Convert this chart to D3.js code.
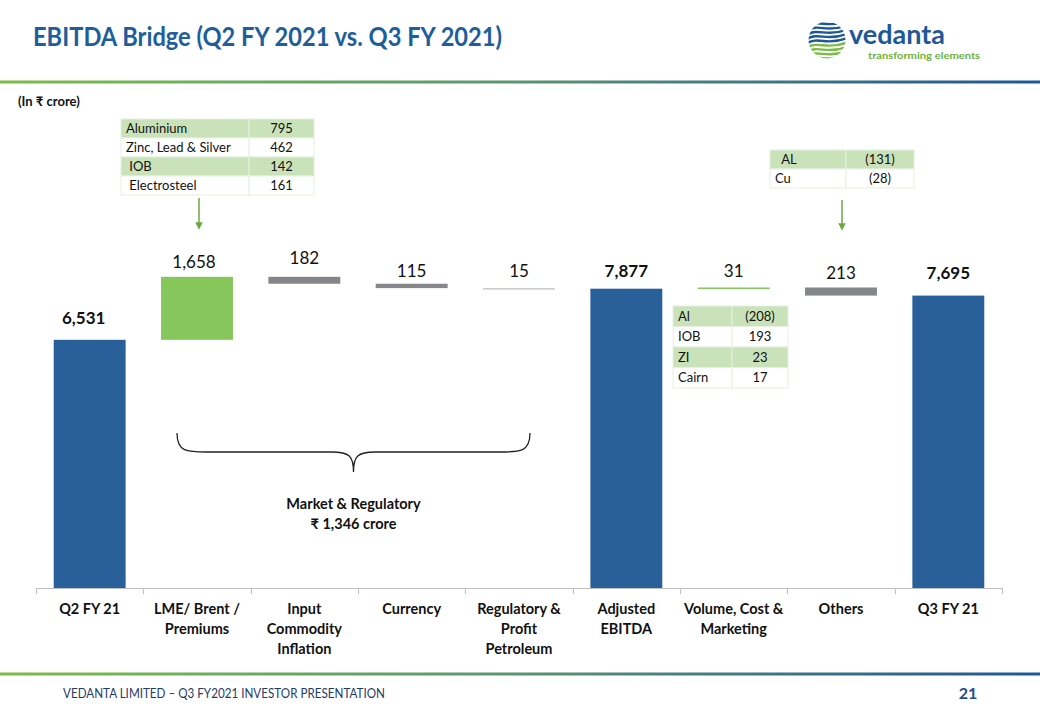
<!DOCTYPE html>
<html><head><meta charset="utf-8">
<script src="https://cdn.jsdelivr.net/npm/d3@7"></script>
<style>
body{margin:0;background:#fff;}
text{font-family:Lato,"Open Sans","Noto Sans",sans-serif;}
</style></head>
<body>
<svg id="c" width="1040" height="720"></svg>
<script>
// ---- data ----
const categories = ["Q2 FY 21","LME/ Brent / Premiums","Input Commodity Inflation","Currency","Regulatory & Profit Petroleum","Adjusted EBITDA","Volume, Cost & Marketing","Others","Q3 FY 21"];
const catLines = [["Q2 FY 21"],["LME/ Brent /","Premiums"],["Input","Commodity","Inflation"],["Currency"],["Regulatory &","Profit","Petroleum"],["Adjusted","EBITDA"],["Volume, Cost &","Marketing"],["Others"],["Q3 FY 21"]];
const deltas = [6531, 1658, -182, -115, -15, null, 31, -213, null]; // null = total
const barLabels = ["6,531","1,658","182","115","15","7,877","31","213","7,695"];
const barTypes = ["total","up","down","down","downLight","total","up","down","total"];
const table1Labels = ["Aluminium","Zinc, Lead & Silver"," IOB"," Electrosteel"];
const table1Values = ["795","462","142","161"];
const table2Labels = ["  AL","Cu"];
const table2Values = ["(131)","(28)"];
const table3Labels = ["Al","IOB","ZI","Cairn"];
const table3Values = ["(208)","193","23","17"];

const svg = d3.select("#c");
const colors = {total:"#2A6099", up:"#86C65A", down:"#848689", downLight:"#c8c8c8"};

// compute waterfall
let run = 0;
const bars = categories.map((c,i)=>{
  let y0,y1;
  if (deltas[i]===null){ y0=0; y1=run; }
  else if (i===0){ y0=0; y1=deltas[i]; run=deltas[i]; }
  else { y0=run; y1=run+deltas[i]; run=y1; }
  return {c, i, y0, y1, type: barTypes[i], label: barLabels[i]};
});

const x = d3.scaleBand().domain(categories).range([36, 1002]).paddingInner(0.33).paddingOuter(0.165);
const y = d3.scaleLinear().domain([0, 8000]).range([588, 284]);

// defs gradient
const defs = svg.append("defs");
const g1 = defs.append("linearGradient").attr("id","hg").attr("x1","0").attr("x2","1");
g1.append("stop").attr("offset","0").attr("stop-color","#7DBB4A");
g1.append("stop").attr("offset","0.45").attr("stop-color","#5E9A6E");
g1.append("stop").attr("offset","1").attr("stop-color","#1E5897");

svg.append("rect").attr("x",0).attr("y",80.5).attr("width",1040).attr("height",3).attr("fill","url(#hg)");
svg.append("rect").attr("x",0).attr("y",672.5).attr("width",1040).attr("height",3).attr("fill","url(#hg)");

// title
svg.append("text").attr("x",33).attr("y",46).attr("font-size",27).attr("font-weight",700).attr("fill","#1D5E9B")
  .attr("textLength",469).attr("lengthAdjust","spacingAndGlyphs")
  .text("EBITDA Bridge (Q2 FY 2021 vs. Q3 FY 2021)");
svg.append("text").attr("x",18).attr("y",106).attr("font-size",13).attr("font-weight",700).attr("fill","#111")
  .text("(In ₹ crore)");

// footer
svg.append("text").attr("x",63).attr("y",698).attr("font-size",12.5).attr("fill","#1F3B66")
  .attr("textLength",322).attr("lengthAdjust","spacingAndGlyphs")
  .text("VEDANTA  LIMITED – Q3 FY2021  INVESTOR PRESENTATION");
svg.append("text").attr("x",968).attr("y",699).attr("font-size",16).attr("font-weight",700).attr("fill","#1F4E8C").attr("text-anchor","middle")
  .text("21");

// logo
const lg = svg.append("g").attr("transform","translate(827,40)");
defs.append("clipPath").attr("id","lc").append("circle").attr("r",18.5);
const lgc = lg.append("g").attr("clip-path","url(#lc)");
for (let k=0;k<9;k++){
  const yy = -17 + k*4.3;
  const col = k<5 ? "#1E5897" : "#7DBB4A";
  lgc.append("path").attr("d",`M-20,${yy+3} C-8,${yy-4} 0,${yy+6} 20,${yy-2}`)
    .attr("stroke",col).attr("stroke-width",2.4).attr("fill","none");
}
svg.append("text").attr("x",849).attr("y",44).attr("font-size",27).attr("font-weight",700).attr("fill","#1E5897")
  .attr("textLength",96).attr("lengthAdjust","spacingAndGlyphs").text("vedanta");
svg.append("text").attr("x",868).attr("y",59).attr("font-size",10).attr("font-weight",700).attr("fill","#6DB33F")
  .attr("textLength",112).attr("lengthAdjust","spacingAndGlyphs").text("transforming elements");

// axis
const axisG = svg.append("g");
axisG.append("line").attr("x1",36).attr("x2",1002).attr("y1",588.5).attr("y2",588.5).attr("stroke","#bfbfbf");
const bounds = categories.map(c=>x(c)-x.step()*x.paddingInner()/2).concat([1002]);
axisG.selectAll("line.tk").data(bounds).join("line").attr("class","tk")
  .attr("x1",d=>Math.round(d)+0.5).attr("x2",d=>Math.round(d)+0.5).attr("y1",588).attr("y2",594).attr("stroke","#bfbfbf");

// bars
svg.selectAll("rect.bar").data(bars).join("rect").attr("class","bar")
  .attr("x",d=>x(d.c)).attr("width",x.bandwidth())
  .attr("y",d=>y(Math.max(d.y0,d.y1)))
  .attr("height",d=>Math.max(1.5, Math.abs(y(d.y0)-y(d.y1))))
  .attr("fill",d=>colors[d.type]);

// bar labels
const labelY = [324, 268, 264, 277, 277, 277, 277, 279, 279];
svg.selectAll("text.bl").data(bars).join("text").attr("class","bl")
  .attr("x",(d,i)=>x(d.c)+x.bandwidth()/2 + (i===0?-6:(i===1?-3:0)))
  .attr("y",(d,i)=>labelY[i])
  .attr("text-anchor","middle").attr("font-size",17)
  .attr("font-weight",d=>d.type==="total"?700:400).attr("fill","#111")
  .text(d=>d.label);

// category labels
svg.selectAll("g.cl").data(categories).join("g").attr("class","cl").each(function(c,i){
  const t = d3.select(this).append("text").attr("text-anchor","middle").attr("font-size",14.5).attr("font-weight",700).attr("fill","#111");
  catLines[i].forEach((ln,j)=>{
    t.append("tspan").attr("x",x(c)+x.bandwidth()/2).attr("y",614+j*20).text(ln);
  });
});

// tables
function table(x0,y0,widths,rowH,labels,values,fs){
  const g = svg.append("g");
  labels.forEach((l,r)=>{
    const fill = r%2===0 ? "#C9E2B9" : "#ffffff";
    g.append("rect").attr("x",x0).attr("y",y0+r*rowH).attr("width",widths[0]).attr("height",rowH).attr("fill",fill).attr("stroke","#e6efe0").attr("stroke-width",1);
    g.append("rect").attr("x",x0+widths[0]).attr("y",y0+r*rowH).attr("width",widths[1]).attr("height",rowH).attr("fill",fill).attr("stroke","#e6efe0").attr("stroke-width",1);
    g.append("text").attr("x",x0+5).attr("y",y0+r*rowH+rowH/2+4.5).attr("font-size",fs).attr("fill","#111").attr("xml:space","preserve").style("white-space","pre").text(l);
    g.append("text").attr("x",x0+widths[0]+widths[1]/2).attr("y",y0+r*rowH+rowH/2+4.5).attr("text-anchor","middle").attr("font-size",fs).attr("fill","#111").text(values[r]);
  });
}
table(121,119,[128,65],19,table1Labels,table1Values,13);
table(770,150,[76,68],19,table2Labels,table2Values,13);
table(673,306,[59,56],20.5,table3Labels,table3Values,13);

// arrows
defs.append("marker").attr("id","ah").attr("viewBox","0 0 10 10").attr("refX",5).attr("refY",5)
  .attr("markerWidth",5).attr("markerHeight",5).attr("orient","auto")
  .append("path").attr("d","M0,0 L10,5 L0,10 z").attr("fill","#6BAA3F");
[[199,198,226],[842,200,227]].forEach(a=>{
  svg.append("line").attr("x1",a[0]).attr("x2",a[0]).attr("y1",a[1]).attr("y2",a[2])
    .attr("stroke","#6BAA3F").attr("stroke-width",1.5).attr("marker-end","url(#ah)");
});

// brace
const bx0=177,bx1=530,bm=353.5,bt=433,bh=452,bb=472;
svg.append("path").attr("d",
  `M${bx0},${bt} C${bx0},${bh} ${bx0+10},${bh} ${bx0+30},${bh} L${bm-22},${bh} C${bm-4},${bh} ${bm},${bh+4} ${bm},${bb} ` +
  `M${bx1},${bt} C${bx1},${bh} ${bx1-10},${bh} ${bx1-30},${bh} L${bm+22},${bh} C${bm+4},${bh} ${bm},${bh+4} ${bm},${bb}`)
  .attr("fill","none").attr("stroke","#222").attr("stroke-width",1.3);
svg.append("text").attr("x",bm).attr("y",509).attr("text-anchor","middle").attr("font-size",14.5).attr("font-weight",700).attr("fill","#111").text("Market & Regulatory");
svg.append("text").attr("x",bm).attr("y",529).attr("text-anchor","middle").attr("font-size",14.5).attr("font-weight",700).attr("fill","#111").text("₹ 1,346 crore");
</script>
</body></html>
